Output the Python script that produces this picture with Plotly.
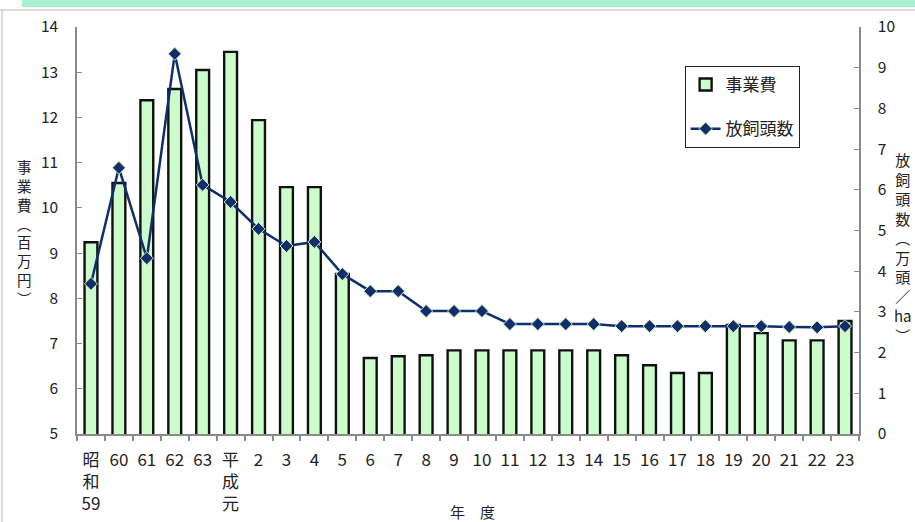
import plotly.graph_objects as go

categories = ["昭<br>和<br>59", "60", "61", "62", "63", "平<br>成<br>元", "2", "3", "4", "5", "6", "7", "8", "9",
              "10", "11", "12", "13", "14", "15", "16", "17", "18", "19", "20", "21", "22", "23"]
cost = [9.24, 10.55, 12.38, 12.63, 13.05, 13.45, 11.94, 10.46, 10.46, 8.54, 6.68, 6.72, 6.74, 6.85,
        6.85, 6.85, 6.85, 6.85, 6.85, 6.74, 6.52, 6.35, 6.35, 7.41, 7.23, 7.07, 7.07, 7.50]
heads = [3.69, 6.54, 4.32, 9.34, 6.12, 5.70, 5.04, 4.62, 4.72, 3.93, 3.51, 3.51, 3.02, 3.02,
         3.02, 2.70, 2.70, 2.70, 2.70, 2.65, 2.65, 2.65, 2.65, 2.65, 2.65, 2.63, 2.62, 2.65]
left_ticks = [5, 6, 7, 8, 9, 10, 11, 12, 13, 14]
right_ticks = list(range(0, 11))

n = len(cost)
categories = categories[:n]

FONT = "Noto Sans CJK JP, Noto Sans, sans-serif"
x_idx = list(range(n))

fig = go.Figure()
fig.add_trace(go.Bar(
    x=x_idx, y=cost, name="事業費", width=0.46,
    marker=dict(color="#ccfccc", line=dict(color="#111111", width=2.4)),
    legendgroup="a", yaxis="y",
))
fig.add_trace(go.Scatter(
    x=x_idx, y=heads, name="放飼頭数", mode="lines+markers",
    line=dict(color="#0f2e6e", width=2.5),
    marker=dict(symbol="diamond", size=10, color="#0f2e6e", line=dict(color="#d6ecb0", width=1)),
    legendgroup="b", yaxis="y2",
))

fig.update_layout(
    width=915, height=522,
    margin=dict(l=77, r=56, t=27, b=88, autoexpand=False),
    paper_bgcolor="white", plot_bgcolor="white",
    font=dict(family=FONT, size=15, color="#222222"),
    showlegend=True,
    legend=dict(x=0.777, y=(434 - 66) / 407, xanchor="left", yanchor="top",
                bordercolor="#222222", borderwidth=1, bgcolor="white",
                font=dict(size=17), traceorder="grouped", tracegroupgap=19,
                itemwidth=30),
    xaxis=dict(
        tickmode="array", tickvals=x_idx, ticktext=categories,
        range=[-0.5, n - 0.5], showgrid=False, zeroline=False, automargin=False,
        showline=True, linecolor="#8a8a8a", linewidth=1.5,
        ticks="", tickfont=dict(size=17), ticklabelstandoff=10,
        minor=dict(tickvals=[i - 0.5 for i in range(n + 1)], ticks="outside",
                   ticklen=5, tickcolor="#8a8a8a", tickwidth=1.5),
    ),
    yaxis=dict(
        range=[5, 14], tickvals=left_ticks, showgrid=False, zeroline=False, automargin=False,
        showline=True, linecolor="#8a8a8a", linewidth=1.5,
        ticks="inside", ticklen=5, tickcolor="#8a8a8a",
        ticklabelstandoff=14, tickfont=dict(size=15.5),
    ),
    yaxis2=dict(
        range=[0, 10], tickvals=right_ticks, overlaying="y", side="right",
        showgrid=False, zeroline=False, automargin=False,
        showline=True, linecolor="#8a8a8a", linewidth=1.5,
        ticks="inside", ticklen=5, tickcolor="#8a8a8a",
        ticklabelstandoff=14, tickfont=dict(size=15.5),
    ),
)

# decorations
fig.add_shape(type="rect", xref="paper", yref="paper",
              x0=(22 - 77) / 782, x1=(915 - 77) / 782, y0=(434 - 7) / 407, y1=(434 + 2) / 407,
              fillcolor="#aaf0d4", line=dict(width=0), layer="below")
fig.add_shape(type="line", xref="paper", yref="paper",
              x0=(0 - 77) / 782, x1=(915 - 77) / 782, y0=(434 - 10) / 407, y1=(434 - 10) / 407,
              line=dict(color="#d0d0d0", width=1.5))
fig.add_shape(type="line", xref="paper", yref="paper",
              x0=(2 - 77) / 782, x1=(2 - 77) / 782, y0=(434 - 10) / 407, y1=(434 - 522) / 407,
              line=dict(color="#d0d0d0", width=1.5))

# axis titles
fig.add_annotation(xref="paper", yref="paper", x=(25 - 77) / 782, y=(434 - 232) / 407,
                   text="事<br>業<br>費<br>︵<br>百<br>万<br>円<br>︶", showarrow=False,
                   font=dict(size=14.5), xanchor="center", yanchor="middle")
fig.add_annotation(xref="paper", yref="paper", x=(903 - 77) / 782, y=(434 - 247) / 407,
                   text="放<br>飼<br>頭<br>数<br>︵<br>万<br>頭<br>／<br>ha<br>︶", showarrow=False,
                   font=dict(size=15), xanchor="center", yanchor="middle")
fig.add_annotation(xref="paper", yref="paper", x=(472 - 77) / 782, y=(434 - 512) / 407,
                   text="年　度", showarrow=False, font=dict(size=15),
                   xanchor="center", yanchor="middle")

fig.write_html("out.html", config={"displayModeBar": False},
               post_script="document.body.style.margin='0';document.body.style.overflow='hidden';")
